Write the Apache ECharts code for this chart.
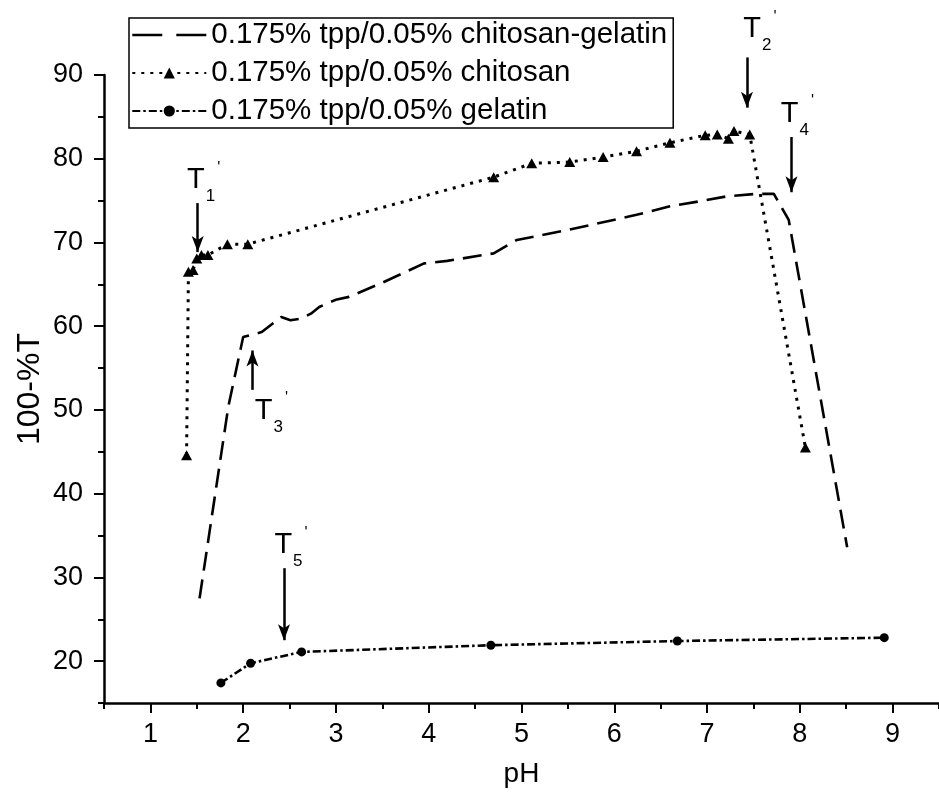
<!DOCTYPE html>
<html>
<head>
<meta charset="utf-8">
<script src="https://cdn.jsdelivr.net/npm/echarts@6/dist/echarts.min.js"></script>
<style>
  html, body { margin: 0; padding: 0; background: #fff; }
  #chart { width: 939px; height: 793px; }
</style>
</head>
<body>
<div id="chart"></div>
<script>
// 0.175% tpp / 0.05% chitosan-gelatin (no markers)
const cgPH  = [1.53, 1.84, 2.00, 2.20, 2.41, 2.51, 2.62, 2.73, 2.82, 2.90, 3.01, 3.14, 3.50, 3.95, 4.20, 4.70, 4.95, 5.50, 6.24, 6.59, 6.91, 7.21, 7.52, 7.72, 7.88, 8.51];
const cgVal = [27.5, 50.4, 58.7, 59.3, 61.1, 60.7, 60.9, 61.5, 62.3, 62.7, 63.2, 63.5, 65.2, 67.5, 67.8, 68.7, 70.3, 71.5, 73.3, 74.3, 74.9, 75.5, 75.8, 75.8, 72.7, 33.6];

// 0.175% tpp / 0.05% chitosan (triangles)
const chPH  = [1.39, 1.41, 1.46, 1.50, 1.55, 1.62, 1.83, 2.05, 4.70, 5.11, 5.52, 5.88, 6.24, 6.60, 6.98, 7.11, 7.23, 7.29, 7.46, 8.06];
const chVal = [44.6, 66.5, 66.7, 68.1, 68.5, 68.5, 69.8, 69.8, 77.8, 79.45, 79.6, 80.2, 80.9, 81.9, 82.8, 82.9, 82.4, 83.3, 82.9, 45.5];

// 0.175% tpp / 0.05% gelatin (circles)
const gePH  = [1.76, 2.08, 2.63, 4.67, 6.68, 8.91];
const geVal = [17.4, 19.75, 21.1, 21.9, 22.4, 22.8];

const seriesNames = [
  '0.175% tpp/0.05% chitosan-gelatin',
  '0.175% tpp/0.05% chitosan',
  '0.175% tpp/0.05% gelatin'
];

// axis ticks
const xMajor = [1, 2, 3, 4, 5, 6, 7, 8, 9];
const xMinor = [0.5, 1.5, 2.5, 3.5, 4.5, 5.5, 6.5, 7.5, 8.5, 9.5];
const yMajor = [20, 30, 40, 50, 60, 70, 80, 90];
const yMinor = [15, 25, 35, 45, 55, 65, 75, 85];

// transition-point arrows T1'..T5': pH position, arrow tail value, arrow tip value
const tIndex = ['1', '2', '3', '4', '5'];
const tPH    = [1.51, 7.43, 2.10, 7.91, 2.44];
const tFrom  = [74.7, 92.1, 52.4, 82.6, 31.1];
const tTo    = [68.85, 86.1, 57.1, 76.0, 22.5];
// label nudges (pixels)
const tLabelOffset = [[6, -8], [13, -13], [19, 6], [6, -8], [7, -8]];

const FONT = "'Liberation Sans', Arial, Helvetica, sans-serif";
const zip = (xs, ys) => xs.map((x, i) => [x, ys[i]]);

// plot area and value ranges
const GRID_LEFT = 104, GRID_RIGHT = -7, GRID_TOP = 75, GRID_BOTTOM = 90;
const CHART_H = 793;
const Y_MIN = 15, Y_MAX = 90;
// a second, taller (hidden) coordinate frame with the same scale, so the
// annotation arrows may reach above the top of the plotted axis
const pxPerUnit = (CHART_H - GRID_TOP - GRID_BOTTOM) / (Y_MAX - Y_MIN);
const Y_MAX_FULL = Y_MIN + (CHART_H - GRID_BOTTOM) / pxPerUnit;

const chart = echarts.init(document.getElementById('chart'), null, { renderer: 'canvas' });

const arrowData = tIndex.map((n, i) => [
  {
    coord: [tPH[i], tFrom[i]],
    label: {
      show: true,
      position: 'start',
      distance: 0,
      offset: tLabelOffset[i],
      formatter: '{t|T}{s|' + n + "}{p|'}"
    }
  },
  { coord: [tPH[i], tTo[i]] }
]);

const axisLineStyle = { color: '#000', width: 2.5 };

chart.setOption({
  animation: false,
  backgroundColor: '#fff',
  textStyle: { fontFamily: FONT, color: '#000' },
  grid: [
    { left: GRID_LEFT, right: GRID_RIGHT, top: GRID_TOP, bottom: GRID_BOTTOM, containLabel: false },
    { left: GRID_LEFT, right: GRID_RIGHT, top: 0, bottom: GRID_BOTTOM, containLabel: false }
  ],
  legend: {
    orient: 'vertical',
    left: 129,
    top: 18,
    padding: [2, 6, 2, 2],
    itemGap: 8,
    itemWidth: 74,
    itemHeight: 14,
    borderColor: '#000',
    borderWidth: 1.5,
    selectedMode: false,
    textStyle: { fontFamily: FONT, fontSize: 29.5, color: '#000', lineHeight: 30 },
    data: [
      {
        name: seriesNames[0],
        itemStyle: { color: 'rgba(0,0,0,0)', borderColor: 'rgba(0,0,0,0)', borderWidth: 0 },
        lineStyle: { color: '#000', width: 2.6, type: [30, 14] }
      },
      { name: seriesNames[1] },
      { name: seriesNames[2] }
    ]
  },
  xAxis: [
    {
      type: 'value',
      gridIndex: 0,
      min: 0.5, max: 9.5,
      name: 'pH',
      nameLocation: 'middle',
      nameGap: 57,
      nameMoveOverlap: false,
      nameTextStyle: { fontFamily: FONT, fontSize: 28, color: '#000' },
      axisLine: { show: true, onZero: false, lineStyle: axisLineStyle },
      axisTick: { show: true, inside: false, length: 10, lineStyle: { color: '#000', width: 2 }, customValues: xMajor },
      axisLabel: { show: true, margin: 18, fontFamily: FONT, fontSize: 27, color: '#000', customValues: xMajor },
      splitLine: { show: false }
    },
    {
      type: 'value',
      gridIndex: 0,
      min: 0.5, max: 9.5,
      position: 'bottom',
      axisLine: { show: false, onZero: false },
      axisTick: { show: true, inside: false, length: 6, lineStyle: { color: '#000', width: 2 }, customValues: xMinor },
      axisLabel: { show: false },
      splitLine: { show: false }
    },
    {
      type: 'value',
      gridIndex: 1,
      min: 0.5, max: 9.5,
      show: false
    }
  ],
  yAxis: [
    {
      type: 'value',
      gridIndex: 0,
      min: Y_MIN, max: Y_MAX,
      name: '100-%T',
      nameLocation: 'middle',
      nameGap: 58,
      nameMoveOverlap: false,
      nameTextStyle: { fontFamily: FONT, fontSize: 32, color: '#000' },
      axisLine: { show: true, onZero: false, lineStyle: axisLineStyle },
      axisTick: { show: true, inside: false, length: 10, lineStyle: { color: '#000', width: 2 }, customValues: yMajor },
      axisLabel: { show: true, margin: 21, fontFamily: FONT, fontSize: 27, color: '#000', customValues: yMajor },
      splitLine: { show: false }
    },
    {
      type: 'value',
      gridIndex: 0,
      min: Y_MIN, max: Y_MAX,
      position: 'left',
      axisLine: { show: false, onZero: false },
      axisTick: { show: true, inside: false, length: 6, lineStyle: { color: '#000', width: 2 }, customValues: yMinor },
      axisLabel: { show: false },
      splitLine: { show: false }
    },
    {
      type: 'value',
      gridIndex: 1,
      min: Y_MIN, max: Y_MAX_FULL,
      show: false
    }
  ],
  series: [
    {
      name: seriesNames[0],
      type: 'line',
      data: zip(cgPH, cgVal),
      symbol: 'none',
      lineStyle: { color: '#000', width: 2.6, type: [19, 9], cap: 'butt' },
      itemStyle: { color: '#000' },
      z: 3
    },
    {
      name: seriesNames[1],
      type: 'line',
      data: zip(chPH, chVal),
      symbol: 'triangle',
      symbolSize: [11, 10],
      lineStyle: { color: '#000', width: 3, type: [3, 6], cap: 'butt' },
      itemStyle: { color: '#000' },
      z: 4
    },
    {
      name: seriesNames[2],
      type: 'line',
      data: zip(gePH, geVal),
      symbol: 'circle',
      symbolSize: 9,
      lineStyle: { color: '#000', width: 2.6, type: [8, 3, 2.5, 3], cap: 'butt' },
      itemStyle: { color: '#000' },
      z: 4
    },
    {
      name: 'arrows',
      type: 'line',
      xAxisIndex: 2,
      yAxisIndex: 2,
      data: [],
      clip: false,
      silent: true,
      markLine: {
        silent: true,
        animation: false,
        symbol: ['none', 'arrow'],
        symbolSize: [9, 16],
        lineStyle: { color: '#000', width: 2.5, type: 'solid' },
        label: {
          color: '#000',
          fontFamily: FONT,
          rich: {
            t: { fontFamily: FONT, fontSize: 29, lineHeight: 30, color: '#000' },
            s: { fontFamily: FONT, fontSize: 17, lineHeight: 18, color: '#000', padding: [32, 0, 0, 1] },
            p: { fontFamily: FONT, fontSize: 16, lineHeight: 16, color: '#000', padding: [0, 0, 24, 2] }
          }
        },
        data: arrowData
      }
    }
  ]
});
</script>
</body>
</html>
